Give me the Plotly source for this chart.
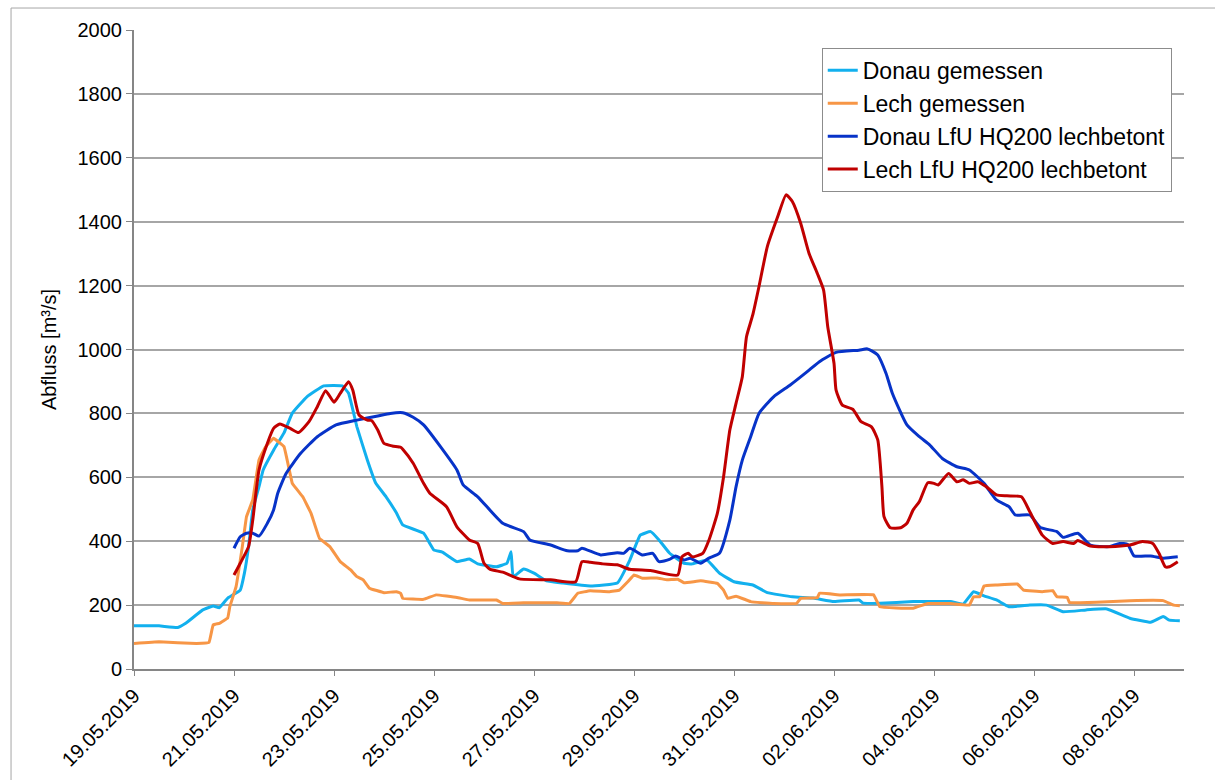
import pandas as pd
import plotly.graph_objects as go

# Hours since 19.05.2019 00:00 and discharge [m³/s] for each series
start = pd.Timestamp("2019-05-19 00:00")

donau_gem_h = [0, 12, 21, 25, 33, 38, 41, 45, 51, 53, 55, 57, 60, 62, 67, 72, 76, 83, 91, 100,
               103, 107, 112, 116, 121, 126, 129, 139, 144, 148, 155, 161, 165, 174, 179, 181, 182,
               187, 192, 198, 206, 219, 232, 238, 243, 248, 252, 257, 264, 268, 275, 281, 288, 297,
               304, 316, 326, 336, 348, 350, 358, 374, 382, 392, 398, 403, 408, 414, 420, 430, 438,
               446, 457, 467, 478, 488, 494, 497, 502]
donau_gem_q = [135, 135, 130, 144, 185, 197, 192, 222, 247, 300, 383, 498, 571, 623, 685, 739, 801,
               852, 886, 886, 863, 758, 654, 582, 539, 488, 451, 425, 372, 366, 336, 344, 329, 320,
               331, 367, 289, 313, 300, 276, 269, 260, 269, 341, 419, 430, 404, 363, 331, 329, 341,
               300, 273, 263, 239, 226, 222, 211, 216, 206, 206, 211, 211, 211, 203, 242, 229, 216,
               195, 200, 200, 179, 185, 188, 159, 146, 164, 153, 151]

lech_gem_h = [0, 12, 30, 36, 38, 41, 45, 46, 49, 52, 54, 57, 60, 63, 67, 72, 76, 81, 85, 89, 94,
              99, 104, 107, 110, 113, 120, 126, 128, 129, 139, 145, 155, 161, 174, 177, 187, 203,
              209, 213, 219, 228, 233, 237, 240, 244, 251, 256, 261, 264, 272, 280, 283, 285, 289,
              296, 307, 318, 320, 328, 329, 339, 355, 358, 374, 381, 392, 401, 403, 406, 408, 414,
              424, 427, 436, 441, 443, 448, 449, 462, 478, 494, 499, 502]
lech_gem_q = [80, 85, 80, 83, 138, 143, 160, 195, 258, 383, 477, 529, 654, 694, 722, 696, 581, 539,
              487, 409, 383, 336, 310, 289, 279, 253, 239, 242, 237, 221, 218, 232, 224, 216, 216,
              205, 207, 207, 205, 237, 245, 242, 247, 273, 294, 284, 285, 279, 281, 270, 276, 268,
              247, 221, 228, 211, 205, 205, 221, 223, 237, 232, 232, 195, 190, 205, 205, 200, 226,
              226, 260, 263, 266, 247, 242, 245, 226, 224, 208, 209, 214, 214, 200, 198]

donau_lfu_h = [48, 51, 54, 57, 60, 64, 67, 69, 73, 80, 88, 97, 107, 117, 123, 129, 134, 139, 155,
               158, 165, 177, 187, 190, 200, 208, 213, 215, 224, 232, 235, 238, 244, 249, 252, 257,
               260, 264, 267, 272, 276, 281, 286, 289, 292, 296, 300, 307, 315, 323, 329, 337, 348,
               352, 357, 361, 364, 371, 377, 382, 388, 395, 401, 408, 414, 420, 423, 430, 435, 443,
               446, 453, 459, 468, 473, 477, 480, 488, 494, 501]
donau_lfu_q = [378, 414, 425, 425, 416, 456, 498, 550, 612, 675, 727, 764, 779, 792, 800, 802, 788,
               764, 623, 576, 539, 456, 430, 404, 388, 370, 370, 378, 357, 364, 362, 378, 357, 362,
               336, 343, 354, 341, 347, 331, 347, 362, 466, 571, 654, 727, 800, 852, 889, 930, 962,
               991, 998, 1002, 983, 925, 863, 764, 727, 701, 659, 633, 623, 581, 529, 508, 482, 482,
               443, 430, 412, 425, 388, 383, 393, 390, 354, 354, 347, 351]

lech_lfu_h = [48, 51, 55, 57, 60, 64, 67, 70, 75, 79, 84, 88, 92, 96, 99, 103, 105, 108, 112, 114,
              117, 120, 124, 128, 129, 134, 139, 142, 150, 155, 161, 165, 168, 171, 177, 185, 200,
              212, 215, 219, 225, 232, 238, 248, 261, 263, 266, 268, 273, 276, 280, 283, 286, 289,
              292, 294, 297, 300, 304, 309, 313, 316, 320, 324, 328, 331, 333, 336, 337, 340, 345,
              349, 354, 357, 359, 360, 363, 368, 371, 374, 377, 381, 384, 386, 391, 395, 398, 401,
              405, 409, 414, 419, 426, 430, 436, 441, 446, 451, 453, 459, 468, 478, 484, 489, 492,
              495, 497, 501]
lech_lfu_q = [294, 331, 383, 466, 623, 706, 753, 767, 753, 740, 774, 821, 871, 835, 863, 899, 873,
              795, 779, 778, 748, 706, 698, 694, 688, 644, 581, 550, 508, 445, 404, 393, 331, 312,
              303, 282, 279, 273, 336, 334, 329, 326, 312, 308, 294, 351, 362, 351, 362, 404, 487,
              602, 748, 832, 915, 1040, 1108, 1197, 1322, 1416, 1484, 1463, 1395, 1301, 1238, 1186,
              1071, 957, 873, 826, 813, 774, 758, 717, 571, 477, 442, 442, 456, 498, 524, 583, 581,
              576, 612, 586, 592, 581, 586, 571, 545, 542, 539, 492, 419, 393, 399, 393, 402, 385,
              383, 388, 399, 393, 362, 320, 320, 336]

# name, hours, discharge, colour, smoothing of the drawn curve
series = [
    ("Donau gemessen", donau_gem_h, donau_gem_q, "#12B0EE", 0.3),
    ("Lech gemessen", lech_gem_h, lech_gem_q, "#F79646", 0.2),
    ("Donau LfU HQ200 lechbetont", donau_lfu_h, donau_lfu_q, "#0733C8", 0.5),
    ("Lech LfU HQ200 lechbetont", lech_lfu_h, lech_lfu_q, "#C00000", 0.5),
]

tick_dates = pd.date_range("2019-05-19", "2019-06-08", freq="2D")
tick_text = [d.strftime("%d.%m.%Y") for d in tick_dates]
y_ticks = list(range(0, 2001, 200))

fig = go.Figure()
for name, hours, q, color, smooth in series:
    t = start + pd.to_timedelta(hours, unit="h")
    fig.add_trace(go.Scatter(x=t, y=q, mode="lines", name=name,
                             line=dict(color=color, width=3, shape="spline", smoothing=smooth)))

font_family = "Liberation Sans, Arial, sans-serif"

fig.update_layout(
    width=1215, height=780,
    margin=dict(l=134, r=31, t=30, b=111),
    paper_bgcolor="white", plot_bgcolor="white",
    font=dict(family=font_family, size=20, color="black"),
    showlegend=True,
    legend=dict(
        x=0.655, y=0.972, xanchor="left", yanchor="top",
        bordercolor="#8C8C8C", borderwidth=1, bgcolor="white",
        font=dict(size=23, family=font_family),
        tracegroupgap=0, itemwidth=30,
    ),
    xaxis=dict(
        type="date", automargin=False,
        range=[start, pd.Timestamp("2019-06-09 00:00")],
        tickvals=tick_dates, ticktext=tick_text,
        tickangle=-45, ticks="outside", ticklen=5, tickcolor="#868686",
        showline=True, linecolor="#868686", linewidth=2,
        showgrid=False, zeroline=False,
        tickfont=dict(size=20, family=font_family),
    ),
    yaxis=dict(
        range=[0, 2000], tickvals=y_ticks, automargin=False,
        ticks="outside", ticklen=6, tickcolor="#868686",
        showline=True, linecolor="#868686", linewidth=2,
        showgrid=True, gridcolor="#A6A6A6", gridwidth=1.5,
        zeroline=False,
        tickfont=dict(size=20, family=font_family),
        title=dict(text="Abfluss [m³/s]", font=dict(size=20, family=font_family), standoff=16),
    ),
)

# Thin frame around the whole chart
fig.add_shape(type="rect", xref="paper", yref="paper",
              x0=-0.1171, x1=1.05, y0=-0.2, y1=1.0344,
              line=dict(color="#A6A6A6", width=1), fillcolor="rgba(0,0,0,0)", layer="below")

fig.write_html("out.html")
